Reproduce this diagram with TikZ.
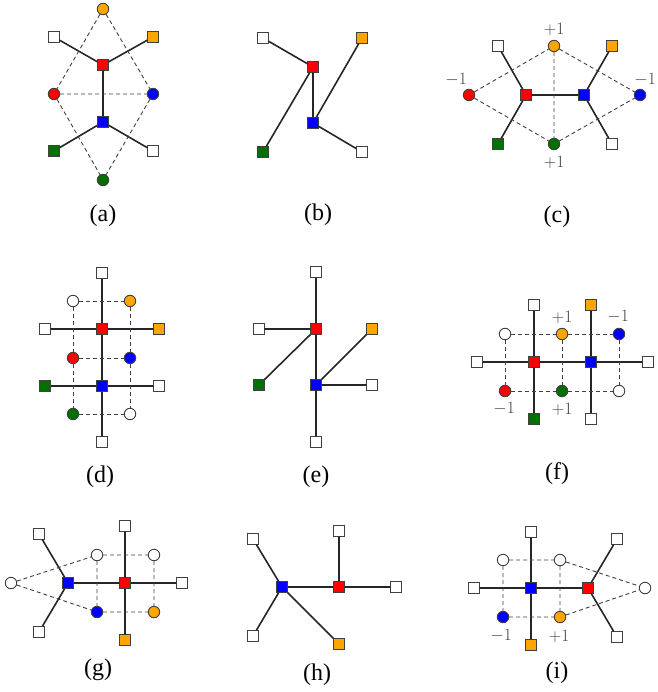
\documentclass[tikz,border=0pt]{standalone}
\usepackage{fontspec}
\setmainfont{Liberation Serif}
\definecolor{myred}{RGB}{255,0,0}
\definecolor{myblue}{RGB}{0,0,255}
\definecolor{myorange}{RGB}{255,165,0}
\definecolor{mygreen}{RGB}{0,112,0}
\begin{document}
\begin{tikzpicture}[x=1pt,y=-1pt,
 sq/.style={rectangle, draw=black!75, line width=0.9pt, minimum size=10.5pt, inner sep=0pt},
 cir/.style={circle, draw=black!75, line width=0.9pt, minimum size=11.5pt, inner sep=0pt},
 sedge/.style={line width=1.6pt, draw=black!85},
 dedge/.style={dash pattern=on 4pt off 3pt, line width=0.9pt, draw=black!75},
 lab/.style={font=\fontsize{24}{28}\selectfont},
 num/.style={font=\fontsize{17}{20}\selectfont, text=black!75, inner sep=0pt}]
\useasboundingbox (0,0) rectangle (657,692);
% ---------- (a)
\node[cir,fill=myorange] (a1) at (103,9) {};
\node[sq,fill=white] (a2) at (54,37) {};
\node[sq,fill=myorange] (a3) at (153,37) {};
\node[sq,fill=myred] (a4) at (103,65) {};
\node[cir,fill=myred] (a5) at (54,94) {};
\node[cir,fill=myblue] (a6) at (153,94) {};
\node[sq,fill=myblue] (a7) at (103,122) {};
\node[sq,fill=mygreen] (a8) at (54,151) {};
\node[sq,fill=white] (a9) at (153,151) {};
\node[cir,fill=mygreen] (a10) at (103,180) {};
\node[lab] (alab) at (103,216) {(a)};
\draw[sedge] (a2)--(a4) (a3)--(a4) (a4)--(a7) (a7)--(a8) (a7)--(a9);
\draw[dedge] (a1)--(a5) (a1)--(a6) (a5)--(a6) (a5)--(a10) (a6)--(a10);
% ---------- (b)
\node[sq,fill=white] (b1) at (263,38) {};
\node[sq,fill=myorange] (b2) at (362,38) {};
\node[sq,fill=myred] (b3) at (313,67) {};
\node[sq,fill=myblue] (b4) at (313,123) {};
\node[sq,fill=mygreen] (b5) at (263,152) {};
\node[sq,fill=white] (b6) at (362,152) {};
\node[lab] (blab) at (318,215) {(b)};
\draw[sedge] (b1)--(b3) (b3)--(b5) (b3)--(b4) (b4)--(b2) (b4)--(b6);
% ---------- (c)
\node[sq,fill=white] (c1) at (498,46) {};
\node[cir,fill=myorange] (c2) at (554,46) {};
\node[sq,fill=myorange] (c3) at (612,46) {};
\node[cir,fill=myred] (c4) at (469,95) {};
\node[sq,fill=myred] (c5) at (526,95) {};
\node[sq,fill=myblue] (c6) at (584,95) {};
\node[cir,fill=myblue] (c7) at (640,95) {};
\node[sq,fill=mygreen] (c8) at (498,144) {};
\node[cir,fill=mygreen] (c9) at (554,144) {};
\node[sq,fill=white] (c10) at (612,144) {};
\node[num] (cn1) at (554,29) {$+1$};
\node[num] (cn2) at (456,80) {$-1$};
\node[num] (cn3) at (645,80) {$-1$};
\node[num] (cn4) at (554,162) {$+1$};
\node[lab] (clab) at (557,217) {(c)};
\draw[sedge] (c1)--(c5) (c5)--(c8) (c5)--(c6) (c6)--(c3) (c6)--(c10);
\draw[dedge] (c4)--(c2) (c4)--(c9) (c2)--(c7) (c9)--(c7) (c2)--(c9);
% ---------- (d)
\node[sq,fill=white] (d1) at (102,273) {};
\node[cir,fill=white] (d2) at (73,301) {};
\node[cir,fill=myorange] (d3) at (130,301) {};
\node[sq,fill=white] (d4) at (45,329) {};
\node[sq,fill=myred] (d5) at (102,329) {};
\node[sq,fill=myorange] (d6) at (159,329) {};
\node[cir,fill=myred] (d7) at (73,358) {};
\node[cir,fill=myblue] (d8) at (130,358) {};
\node[sq,fill=mygreen] (d9) at (45,386) {};
\node[sq,fill=myblue] (d10) at (102,386) {};
\node[sq,fill=white] (d11) at (159,386) {};
\node[cir,fill=mygreen] (d12) at (73,414) {};
\node[cir,fill=white] (d13) at (130,414) {};
\node[sq,fill=white] (d14) at (102,442) {};
\node[lab] (dlab) at (100,477) {(d)};
\draw[sedge] (d1)--(d5) (d5)--(d10) (d10)--(d14) (d4)--(d5) (d5)--(d6) (d9)--(d10) (d10)--(d11);
\draw[dedge] (d2)--(d3) (d2)--(d7) (d3)--(d8) (d7)--(d8) (d7)--(d12) (d8)--(d13) (d12)--(d13);
% ---------- (e)
\node[sq,fill=white] (e1) at (316,272) {};
\node[sq,fill=white] (e2) at (259,329) {};
\node[sq,fill=myred] (e3) at (316,329) {};
\node[sq,fill=myorange] (e4) at (372,329) {};
\node[sq,fill=mygreen] (e5) at (259,385) {};
\node[sq,fill=myblue] (e6) at (316,385) {};
\node[sq,fill=white] (e7) at (372,385) {};
\node[sq,fill=white] (e8) at (316,442) {};
\node[lab] (elab) at (316,477) {(e)};
\draw[sedge] (e1)--(e3) (e2)--(e3) (e3)--(e5) (e3)--(e6) (e6)--(e4) (e6)--(e7) (e6)--(e8);
% ---------- (f)
\node[sq,fill=white] (f1) at (534,305) {};
\node[sq,fill=myorange] (f2) at (591,305) {};
\node[cir,fill=white] (f3) at (505,334) {};
\node[cir,fill=myorange] (f4) at (562,334) {};
\node[cir,fill=myblue] (f5) at (619,334) {};
\node[sq,fill=white] (f6) at (477,362) {};
\node[sq,fill=myred] (f7) at (534,362) {};
\node[sq,fill=myblue] (f8) at (591,362) {};
\node[sq,fill=white] (f9) at (648,362) {};
\node[cir,fill=myred] (f10) at (505,391) {};
\node[cir,fill=mygreen] (f11) at (562,391) {};
\node[cir,fill=white] (f12) at (619,391) {};
\node[sq,fill=mygreen] (f13) at (534,419) {};
\node[sq,fill=white] (f14) at (591,419) {};
\node[num] (fn1) at (562,317) {$+1$};
\node[num] (fn2) at (618,317) {$-1$};
\node[num] (fn3) at (504,409) {$-1$};
\node[num] (fn4) at (562,409) {$+1$};
\node[lab] (flab) at (557,474) {(f)};
\draw[sedge] (f1)--(f7) (f7)--(f13) (f2)--(f8) (f8)--(f14) (f6)--(f7) (f7)--(f8) (f8)--(f9);
\draw[dedge] (f3)--(f4) (f4)--(f5) (f10)--(f11) (f11)--(f12) (f3)--(f10) (f4)--(f11) (f5)--(f12);
% ---------- (g)
\node[sq,fill=white] (g1) at (39,534) {};
\node[sq,fill=white] (g2) at (125,526) {};
\node[cir,fill=white] (g3) at (97,555) {};
\node[cir,fill=white] (g4) at (154,555) {};
\node[cir,fill=white] (g5) at (11,583) {};
\node[sq,fill=myblue] (g6) at (68,583) {};
\node[sq,fill=myred] (g7) at (125,583) {};
\node[sq,fill=white] (g8) at (182,583) {};
\node[cir,fill=myblue] (g9) at (97,612) {};
\node[cir,fill=myorange] (g10) at (154,612) {};
\node[sq,fill=white] (g11) at (39,632) {};
\node[sq,fill=myorange] (g12) at (125,640) {};
\node[lab] (glab) at (98,670) {(g)};
\draw[sedge] (g1)--(g6) (g6)--(g11) (g6)--(g7) (g7)--(g8) (g2)--(g7) (g7)--(g12);
\draw[dedge] (g5)--(g3) (g5)--(g9) (g3)--(g4) (g3)--(g9) (g4)--(g10) (g9)--(g10);
% ---------- (h)
\node[sq,fill=white] (h1) at (253,539) {};
\node[sq,fill=white] (h2) at (339,531) {};
\node[sq,fill=myblue] (h3) at (282,587) {};
\node[sq,fill=myred] (h4) at (339,587) {};
\node[sq,fill=white] (h5) at (396,587) {};
\node[sq,fill=white] (h6) at (253,636) {};
\node[sq,fill=myorange] (h7) at (339,644) {};
\node[lab] (hlab) at (317,675) {(h)};
\draw[sedge] (h1)--(h3) (h6)--(h3) (h3)--(h4) (h3)--(h7) (h4)--(h2) (h4)--(h5);
% ---------- (i)
\node[sq,fill=white] (i1) at (531,532) {};
\node[sq,fill=white] (i2) at (617,539) {};
\node[cir,fill=white] (i3) at (503,560) {};
\node[cir,fill=white] (i4) at (560,560) {};
\node[sq,fill=white] (i5) at (474,588) {};
\node[sq,fill=myblue] (i6) at (531,588) {};
\node[sq,fill=myred] (i7) at (588,588) {};
\node[cir,fill=white] (i8) at (645,588) {};
\node[cir,fill=myblue] (i9) at (503,617) {};
\node[cir,fill=myorange] (i10) at (560,617) {};
\node[sq,fill=white] (i11) at (617,637) {};
\node[sq,fill=myorange] (i12) at (531,645) {};
\node[num] (in1) at (501,636) {$-1$};
\node[num] (in2) at (559,636) {$+1$};
\node[lab] (ilab) at (557,673) {(i)};
\draw[sedge] (i1)--(i6) (i6)--(i12) (i5)--(i6) (i6)--(i7) (i7)--(i2) (i7)--(i11);
\draw[dedge] (i3)--(i4) (i3)--(i9) (i4)--(i10) (i9)--(i10) (i4)--(i8) (i10)--(i8);
\end{tikzpicture}
\end{document}
